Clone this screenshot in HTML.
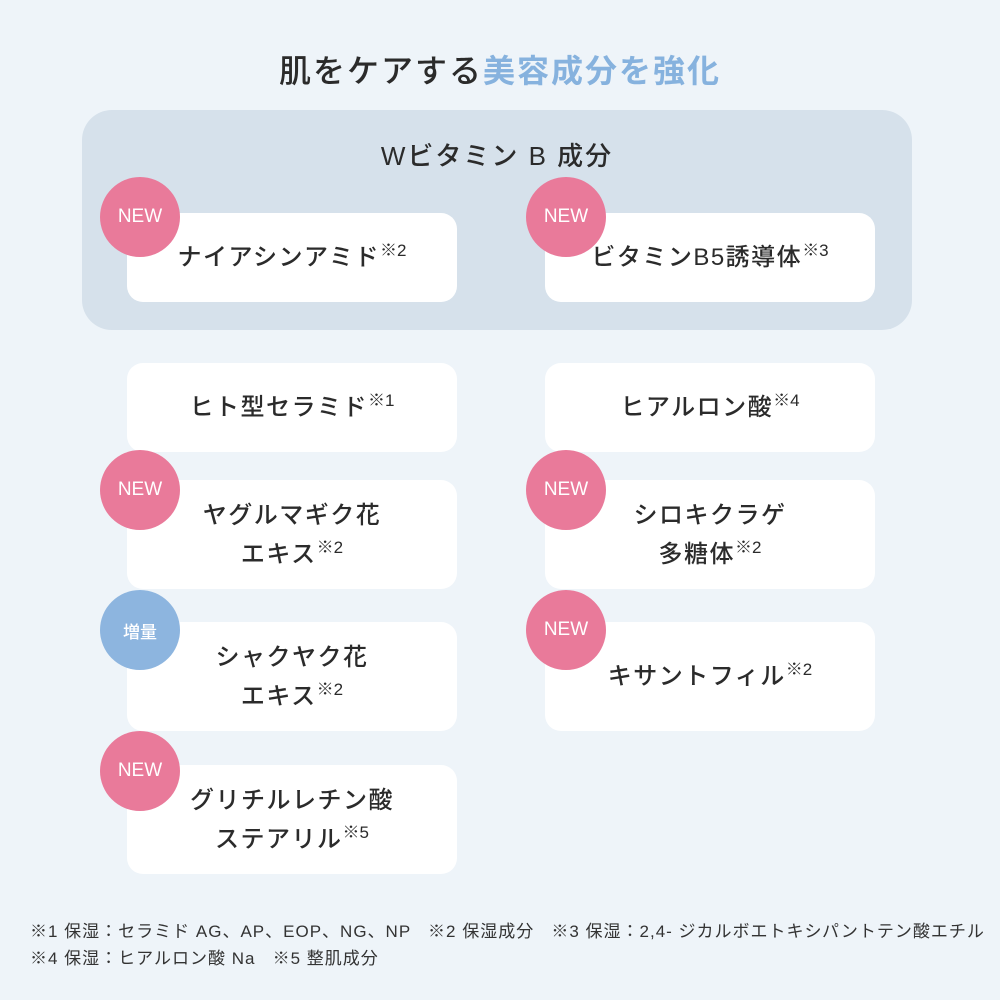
<!DOCTYPE html>
<html><head><meta charset="utf-8"><style>
body{margin:0;width:1000px;height:1000px;background:#eef4f9;position:relative;overflow:hidden;font-family:"Liberation Sans","Noto Sans CJK JP",sans-serif;color:#2b2b2b}
.t{position:absolute;left:0;width:1000px;top:46px;text-align:center;font-size:32px;font-weight:500;letter-spacing:2px}
.t span{color:#86b2de;font-weight:700}
.panel{position:absolute;left:82px;top:110px;width:830px;height:220px;background:#d6e1eb;border-radius:30px}
.ph{position:absolute;left:82px;width:830px;top:136px;text-align:center;font-size:26px;letter-spacing:2px;font-weight:500}
.c{position:absolute;width:330px;background:#fff;border-radius:16px;display:flex;align-items:center;justify-content:center;text-align:center;font-size:24px;font-weight:500;letter-spacing:1.5px;line-height:39px}
.c sup{font-size:17px;vertical-align:9px;letter-spacing:0;line-height:0}
.b{position:absolute;width:80px;height:80px;border-radius:50%;background:#e97a9a;color:#fff;font-size:19px;font-weight:500;display:flex;align-items:center;justify-content:center}
.bl{background:#8db5df;font-size:17px}
.f{position:absolute;left:30px;top:918px;font-size:17px;line-height:27px;color:#333;white-space:pre;letter-spacing:1px}
</style></head><body>
<div class="t">肌をケアする<span>美容成分を強化</span></div>
<div class="panel"></div>
<div class="ph">Wビタミン B 成分</div>
<div class="c" style="left:127px;top:213px;height:89px"><div>ナイアシンアミド<sup>※2</sup></div></div>
<div class="c" style="left:545px;top:213px;height:89px"><div>ビタミンB5誘導体<sup>※3</sup></div></div>
<div class="c" style="left:127px;top:363px;height:89px"><div>ヒト型セラミド<sup>※1</sup></div></div>
<div class="c" style="left:545px;top:363px;height:89px"><div>ヒアルロン酸<sup>※4</sup></div></div>
<div class="c" style="left:127px;top:480px;height:109px"><div>ヤグルマギク花<br>エキス<sup>※2</sup></div></div>
<div class="c" style="left:545px;top:480px;height:109px"><div>シロキクラゲ<br>多糖体<sup>※2</sup></div></div>
<div class="c" style="left:127px;top:622px;height:109px"><div>シャクヤク花<br>エキス<sup>※2</sup></div></div>
<div class="c" style="left:545px;top:622px;height:109px"><div>キサントフィル<sup>※2</sup></div></div>
<div class="c" style="left:127px;top:765px;height:109px"><div>グリチルレチン酸<br>ステアリル<sup>※5</sup></div></div>
<div class="b" style="left:100px;top:177px">NEW</div>
<div class="b" style="left:526px;top:177px">NEW</div>
<div class="b" style="left:100px;top:450px">NEW</div>
<div class="b" style="left:526px;top:450px">NEW</div>
<div class="b bl" style="left:100px;top:590px">増量</div>
<div class="b" style="left:526px;top:590px">NEW</div>
<div class="b" style="left:100px;top:731px">NEW</div>
<div class="f">※1 保湿：セラミド AG、AP、EOP、NG、NP   ※2 保湿成分   ※3 保湿：2,4- ジカルボエトキシパントテン酸エチル
※4 保湿：ヒアルロン酸 Na   ※5 整肌成分</div>
</body></html>
